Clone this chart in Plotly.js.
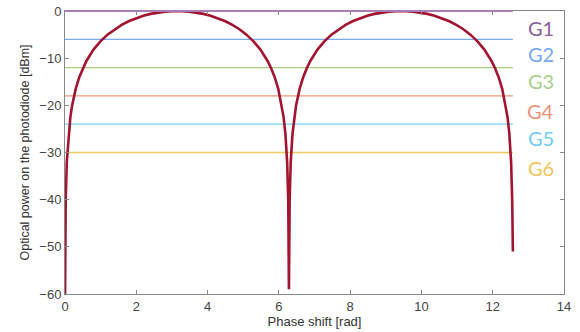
<!DOCTYPE html>
<html>
<head>
<meta charset="utf-8">
<script src="https://cdn.plot.ly/plotly-3.0.1.min.js"></script>
<style>html,body{margin:0;padding:0;background:#fff;}#chart{width:580px;height:332px;}</style>
</head>
<body>
<div id="chart"></div>
<script>
// Curve: phase shift [rad] vs optical power [dBm]
const phase = [0.002,0.02,0.05,0.1,0.15,0.2,0.3,0.4,0.5,0.6,0.8,1.0,1.2,1.4,1.6,1.8,2.0,2.2,2.4,2.6,2.8,3.0,3.142,
  3.283,3.483,3.683,3.883,4.083,4.283,4.483,4.683,4.883,5.083,5.283,5.483,5.683,5.783,5.883,5.983,6.083,6.133,6.183,6.233,6.263,6.283,
  6.303,6.333,6.383,6.433,6.483,6.583,6.683,6.783,6.883,7.083,7.283,7.483,7.683,7.883,8.083,8.283,8.483,8.683,8.883,9.083,9.283,9.425,
  9.566,9.766,9.966,10.166,10.366,10.566,10.766,10.966,11.166,11.366,11.566,11.766,11.966,12.066,12.166,12.266,12.366,12.416,12.466,12.516,12.546,12.566];
const power = [-60,-40,-32.04,-26.02,-22.5,-20.02,-16.51,-14.04,-12.13,-10.59,-8.19,-6.39,-4.96,-3.82,-2.88,-2.12,-1.5,-1.0,-0.61,-0.32,-0.13,-0.02,0,
  -0.02,-0.13,-0.32,-0.61,-1.0,-1.5,-2.12,-2.88,-3.82,-4.96,-6.39,-8.19,-10.59,-12.13,-14.04,-16.51,-20.02,-22.5,-26.02,-32.04,-40,-59,
  -40,-32.04,-26.02,-22.5,-20.02,-16.51,-14.04,-12.13,-10.59,-8.19,-6.39,-4.96,-3.82,-2.88,-2.12,-1.5,-1.0,-0.61,-0.32,-0.13,-0.02,0,
  -0.02,-0.13,-0.32,-0.61,-1.0,-1.5,-2.12,-2.88,-3.82,-4.96,-6.39,-8.19,-10.59,-12.13,-14.04,-16.51,-20.02,-22.5,-26.02,-32.04,-40,-51];

// Threshold levels
const levelNames = ["G1","G2","G3","G4","G5","G6"];
const levelValues = [0,-6,-12,-18,-24,-30];
const levelStart = 0;
const levelEnd = 12.566;
const levelColors = ["#a77fb6","#7aaaf0","#a8cc80","#f09878","#72d0f0","#f0c860"];
const labelColors = ["#8a5f99","#78a8f5","#a9d08a","#ee9273","#70cdf5","#f2c55a"];
// label positions (data y)
const labelY = [-3.6,-9.1,-14.8,-21.2,-26.9,-33.3];

const yRange = [-60, 0];
const xRange = [0, 14];

// level lines as shapes (y converted to paper fraction via axis range); G1 sits on the top frame
const shapes = levelValues.map((v,i) => ({
  type:'line', layer: i===0 ? 'above' : 'below', xref:'x', yref:'paper',
  x0:levelStart, x1:levelEnd,
  y0:(v - yRange[0])/(yRange[1]-yRange[0]), y1:(v - yRange[0])/(yRange[1]-yRange[0]),
  line:{color:levelColors[i], width: i===0 ? 2 : 1.3}
}));

const traces = [
  {x:phase, y:power, mode:'lines', line:{color:'#a2142f', width:2.6}, showlegend:false}
];

const annotations = levelNames.map((n,i) => ({
  x: 13.35, y: labelY[i], xref:'x', yref:'y', text:n, showarrow:false,
  font:{family:'Lato, "Open Sans", sans-serif', size:20, color:labelColors[i]}, xanchor:'center', yanchor:'middle'
}));

const axisCommon = {
  showgrid:false, zeroline:false, showline:true, mirror:'ticks', linecolor:'#888', linewidth:1,
  ticks:'inside', ticklen:4, tickcolor:'#888', tickwidth:1,
  tickfont:{family:'"Liberation Sans", Arial, sans-serif', size:13, color:'#444'}
};

const layout = {
  width:580, height:332,
  margin:{l:65, r:16, t:11, b:38},
  paper_bgcolor:'#fff', plot_bgcolor:'#fff',
  xaxis: Object.assign({}, axisCommon, {range:xRange, dtick:2, tick0:0,
    title:{text:'Phase shift [rad]', standoff:2, font:{family:'"Liberation Sans", Arial, sans-serif', size:13, color:'#333'}}}),
  yaxis: Object.assign({}, axisCommon, {range:yRange, dtick:10, tick0:0,
    title:{text:'Optical power on the photodiode [dBm]', standoff:6, font:{family:'"Liberation Sans", Arial, sans-serif', size:12.5, color:'#333'}}}),
  shapes: shapes,
  annotations: annotations
};

Plotly.newPlot('chart', traces, layout, {displayModeBar:false, staticPlot:true});
</script>
</body>
</html>
